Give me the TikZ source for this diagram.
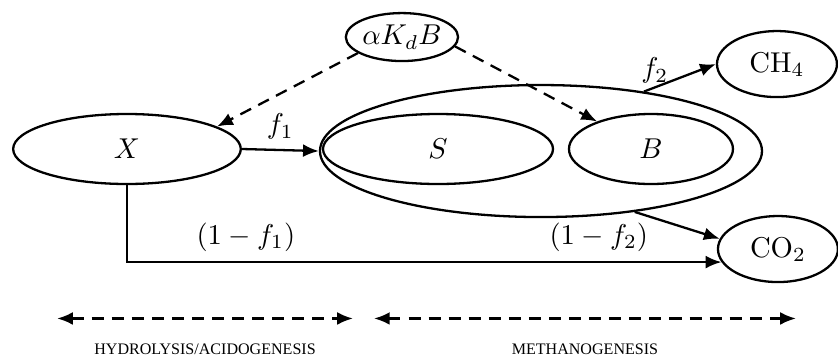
\documentclass[tikz,border=0pt]{standalone}
\usepackage{amsmath,amssymb}
\usepackage{fontspec}
\usepackage{tikz}
\usetikzlibrary{arrows.meta,positioning,shapes.geometric}
\newfontfamily\phasefont{Liberation Serif}

\begin{document}
\begin{tikzpicture}[
  pool/.style={draw, ellipse, line width=0.8pt, inner sep=0pt},
  flow/.style={line width=0.8pt, -{Latex[length=5.5pt,width=4.5pt]}},
  link/.style={flow, dash pattern=on 4.2pt off 2.8pt},
  phase/.style={line width=0.9pt, dash pattern=on 4.2pt off 2.8pt,
    {Latex[length=5.5pt,width=4.5pt]}-{Latex[length=5.5pt,width=4.5pt]}},
  phasename/.style={font=\phasefont\fontsize{5.6}{6}\selectfont, inner sep=0pt}
]
\useasboundingbox (0,0) rectangle (10.27,4.363);
% substrate and biomass pools
\node[pool, minimum width=5.417cm, minimum height=1.618cm] (reactor) at (6.630,2.512) {};
\node[pool, minimum width=2.79cm, minimum height=0.858cm] (X) at (1.556,2.537) {$X$};
\node[pool, minimum width=2.819cm, minimum height=0.858cm] (S) at (5.368,2.537) {$S$};
\node[pool, minimum width=2.01cm, minimum height=0.858cm] (B) at (7.978,2.537) {$B$};
\node[pool, minimum width=1.225cm, minimum height=0.588cm] (decay) at (4.926,3.909) {$\alpha K_d B$};
\node[pool, minimum width=1.47cm, minimum height=0.809cm] (CH4) at (9.522,3.578) {$\mathrm{CH}_4$};
\node[pool, minimum width=1.47cm, minimum height=0.809cm] (CO2) at (9.534,1.311) {$\mathrm{CO}_2$};
% flows
\draw[flow] (X.east) -- (reactor.west) node[midway, above] {$f_1$};
\draw[flow] (reactor.30) -- (CH4.west) node[pos=0.15, above, inner sep=1pt] {$f_2$};
\draw[flow] (reactor.327) -- (CO2.170) node[pos=0, below, xshift=-0.44cm] {$(1-f_2)$};
\draw[flow] (X.south) |- (CO2.193) node[pos=0.6, above] {$(1-f_1)$};
\draw[link] (decay.200) -- (X.14);
\draw[link] (decay.-10) -- (B.153);
% process phases
\coordinate (h0) at (0.699,0.460);
\coordinate (h1) at (4.326,0.460);
\coordinate (m0) at (4.583,0.460);
\coordinate (m1) at (9.755,0.460);
\draw[phase] (h0) -- (h1);
\draw[phase] (m0) -- (m1);
\node[phasename] (hydro) at (2.513,0.08) {HYDROLYSIS/ACIDOGENESIS};
\node[phasename] (methano) at (7.169,0.08) {METHANOGENESIS};
\end{tikzpicture}
\end{document}
